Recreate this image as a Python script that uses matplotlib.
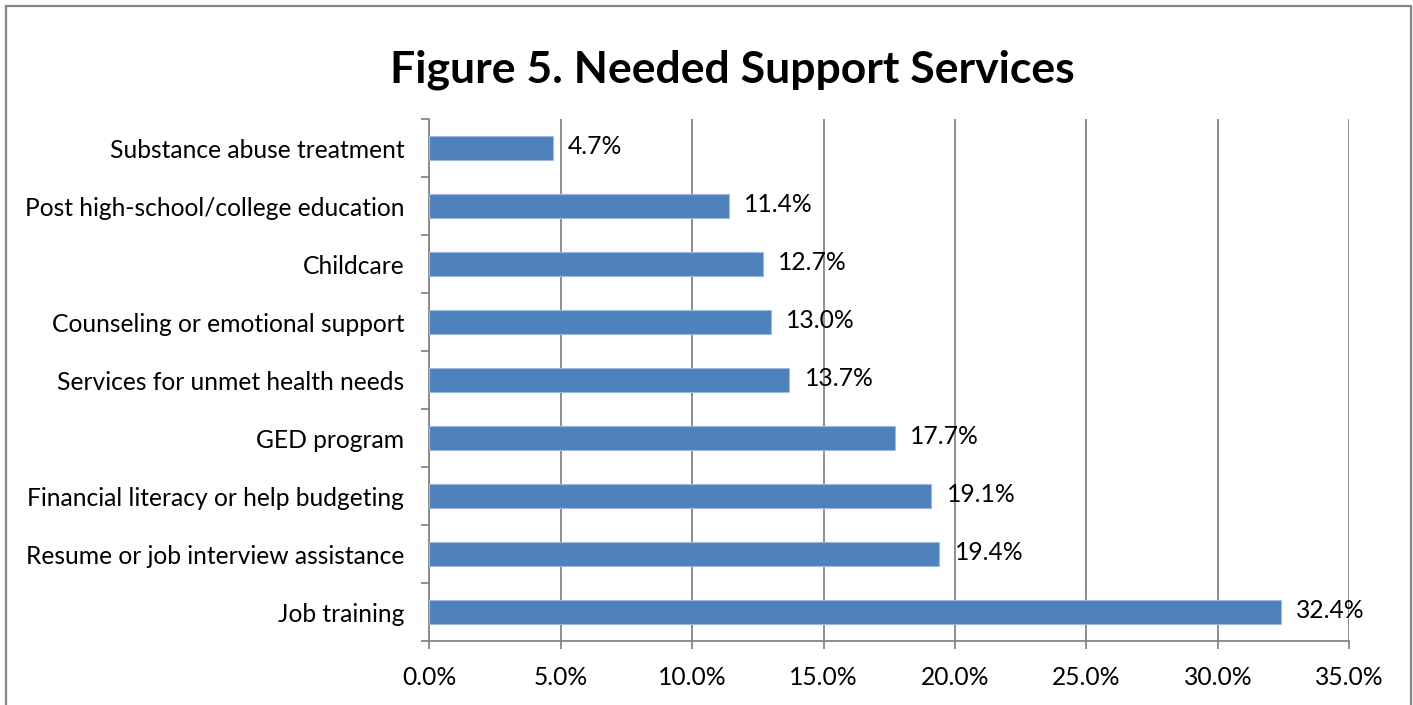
import matplotlib
matplotlib.use("Agg")
import matplotlib.pyplot as plt
from matplotlib.patches import Rectangle
from matplotlib.ticker import MultipleLocator, FuncFormatter

# needed services, listed bottom to top
services = [
    "Job training",
    "Resume or job interview assistance",
    "Financial literacy or help budgeting",
    "GED program",
    "Services for unmet health needs",
    "Counseling or emotional support",
    "Childcare",
    "Post high-school/college education",
    "Substance abuse treatment",
]
share_pct = [32.4, 19.4, 19.1, 17.7, 13.7, 13.0, 12.7, 11.4, 4.7]

BAR = "#4F81BD"
BAR_EDGE = "#9DB9DD"
GRID = "#868686"
FONT = ["Lato", "DejaVu Sans"]
TXT = 17.7

plt.rcParams["font.family"] = FONT

fig = plt.figure(figsize=(14.13, 7.05), dpi=100)
fig.patch.set_facecolor("white")

# outer chart frame
fig.patches.append(Rectangle((6 / 1413, -0.02), 1405 / 1413, 1 - 6 / 705 + 0.02,
                             transform=fig.transFigure, fill=False,
                             edgecolor=GRID, linewidth=1.6))

ax = fig.add_axes([429.3 / 1413, 1 - 641 / 705, 920 / 1413, 522 / 705])
y = range(len(services))
ax.barh(y, share_pct, height=0.4, color=BAR, edgecolor=BAR_EDGE,
        linewidth=0.8, zorder=3)

for yi, v in zip(y, share_pct):
    ax.annotate(f"{v:.1f}%", xy=(v, yi), xytext=(11, 1),
                textcoords="offset points", va="center", ha="left",
                fontsize=TXT, color="black", zorder=4)

ax.set_xlim(0, 35)
ax.set_ylim(-0.5, len(services) - 0.5)
ax.xaxis.set_major_locator(MultipleLocator(5))
ax.xaxis.set_major_formatter(FuncFormatter(lambda v, _: f"{v:.1f}%"))
ax.grid(axis="x", color=GRID, linewidth=1.3, zorder=0)
ax.set_axisbelow(True)

ax.set_yticks(list(y))
ax.set_yticklabels(services)
ax.set_yticks([i - 0.5 for i in range(len(services) + 1)], minor=True)
ax.tick_params(axis="y", which="major", length=0, pad=18, labelsize=TXT)
ax.tick_params(axis="y", which="minor", length=6, width=1.3, color=GRID,
               direction="out")
ax.tick_params(axis="x", length=6, width=1.3, color=GRID, pad=12,
               labelsize=TXT)

for side in ("top", "right"):
    ax.spines[side].set_visible(False)
for side in ("left", "bottom"):
    ax.spines[side].set_color(GRID)
    ax.spines[side].set_linewidth(1.3)

fig.text(732.5 / 1413, 1 - 70 / 705, "Figure 5. Needed Support Services",
         ha="center", va="center", fontsize=32, fontweight="bold")

fig.savefig("out.png", dpi=100, facecolor="white")
